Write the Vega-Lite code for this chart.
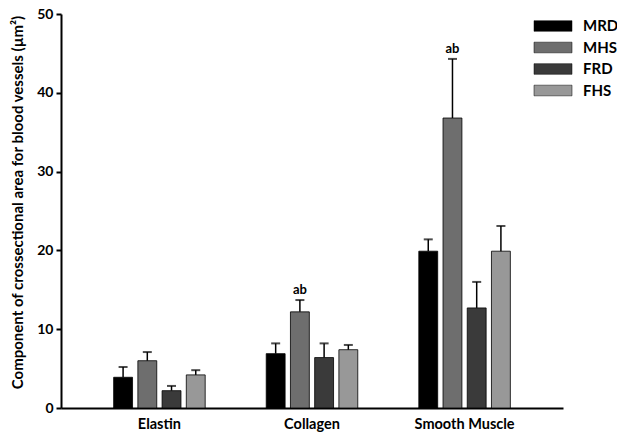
{
  "$schema": "https://vega.github.io/schema/vega-lite/v6.json",
  "width": 502,
  "height": 394,
  "autosize": {"type": "none"},
  "padding": {"left": 61, "top": 14, "right": 54, "bottom": 35},
  "background": "white",
  "config": {
    "view": {"stroke": null},
    "font": "Lato",
    "axis": {"domainColor": "black", "domainWidth": 2, "tickColor": "black", "labelColor": "black", "titleColor": "black", "grid": false}
  },
  "data": {
    "values": [
      {"tissue": "Elastin", "group": "MRD", "mean": 3.9, "upper": 5.2, "label": ""},
      {"tissue": "Elastin", "group": "MHS", "mean": 6.0, "upper": 7.1, "label": ""},
      {"tissue": "Elastin", "group": "FRD", "mean": 2.2, "upper": 2.8, "label": ""},
      {"tissue": "Elastin", "group": "FHS", "mean": 4.2, "upper": 4.8, "label": ""},
      {"tissue": "Collagen", "group": "MRD", "mean": 6.9, "upper": 8.2, "label": ""},
      {"tissue": "Collagen", "group": "MHS", "mean": 12.2, "upper": 13.7, "label": "ab"},
      {"tissue": "Collagen", "group": "FRD", "mean": 6.4, "upper": 8.2, "label": ""},
      {"tissue": "Collagen", "group": "FHS", "mean": 7.4, "upper": 8.0, "label": ""},
      {"tissue": "Smooth Muscle", "group": "MRD", "mean": 19.9, "upper": 21.4, "label": ""},
      {"tissue": "Smooth Muscle", "group": "MHS", "mean": 36.8, "upper": 44.3, "label": "ab"},
      {"tissue": "Smooth Muscle", "group": "FRD", "mean": 12.7, "upper": 16.0, "label": ""},
      {"tissue": "Smooth Muscle", "group": "FHS", "mean": 19.9, "upper": 23.1, "label": ""}
    ]
  },
  "encoding": {
    "x": {
      "field": "tissue", "type": "nominal",
      "sort": ["Elastin", "Collagen", "Smooth Muscle"],
      "scale": {"paddingInner": 0.4, "paddingOuter": 0.345},
      "axis": {"title": null, "ticks": false, "labelAngle": 0, "labelFontSize": 14.5, "labelFontWeight": "bold", "labelPadding": 9, "labelDx": -9}
    },
    "xOffset": {
      "field": "group", "type": "nominal",
      "sort": ["MRD", "MHS", "FRD", "FHS"],
      "scale": {"paddingInner": 0.22}
    }
  },
  "layer": [
    {
      "mark": {"type": "bar", "stroke": "black", "strokeWidth": 0.8},
      "encoding": {
        "y": {
          "field": "mean", "type": "quantitative",
          "scale": {"domain": [0, 50], "nice": false},
          "axis": {
            "title": "Component of crossectional area for blood vessels (µm²)",
            "titleFontSize": 15, "titleFontWeight": "bold", "titlePadding": 11, "titleY": 188,
            "labelFontSize": 14, "labelFontWeight": "bold", "labelPadding": 3,
            "values": [0, 10, 20, 30, 40, 50], "tickSize": 5, "tickWidth": 2
          }
        },
        "color": {
          "field": "group", "type": "nominal",
          "scale": {"domain": ["MRD", "MHS", "FRD", "FHS"], "range": ["#000000", "#6e6e6e", "#3a3a3a", "#989898"]},
          "legend": {
            "title": null, "orient": "none", "legendX": 482, "legendY": 2,
            "symbolType": "M-2,-0.56H2V0.56H-2Z", "symbolSize": 361,
            "symbolStrokeColor": "black", "symbolStrokeWidth": 0.5,
            "labelFontSize": 15, "labelFontWeight": "bold", "labelColor": "black",
            "rowPadding": 3.5, "labelOffset": 20
          }
        }
      }
    },
    {
      "mark": {"type": "rule", "color": "black", "strokeWidth": 1.5},
      "encoding": {
        "y": {"field": "mean", "type": "quantitative"},
        "y2": {"field": "upper"}
      }
    },
    {
      "mark": {"type": "tick", "color": "black", "thickness": 2, "size": 9},
      "encoding": {
        "y": {"field": "upper", "type": "quantitative"}
      }
    },
    {
      "mark": {"type": "text", "dy": -10, "fontSize": 13, "fontWeight": "bold", "color": "black"},
      "encoding": {
        "y": {"field": "upper", "type": "quantitative"},
        "text": {"field": "label"}
      }
    }
  ]
}
